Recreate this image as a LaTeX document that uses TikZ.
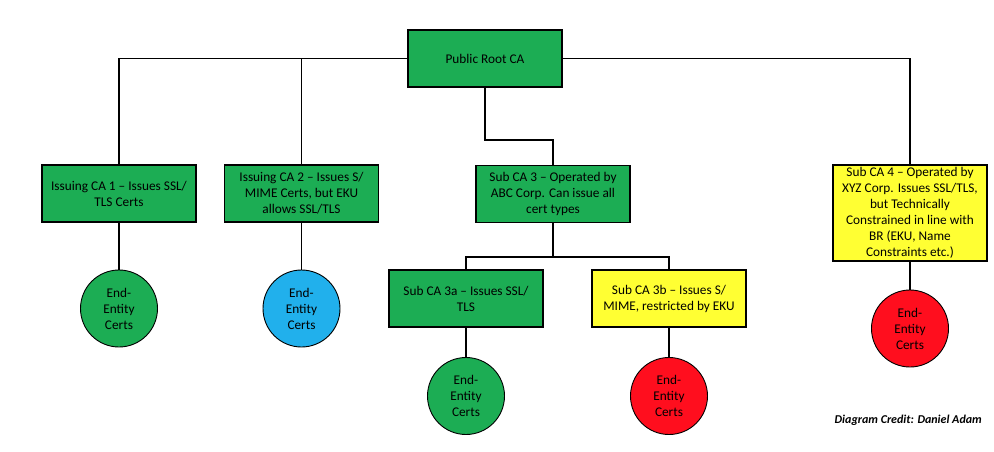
\documentclass[tikz,border=0pt]{standalone}
\usepackage{fontspec}
\setmainfont{Carlito}
\definecolor{cagreen}{RGB}{28,173,84}
\definecolor{cablue}{RGB}{33,176,236}
\definecolor{cayellow}{RGB}{255,255,51}
\definecolor{cared}{RGB}{255,14,30}
\begin{document}
\begin{tikzpicture}[x=1pt,y=-1pt,
  box/.style={draw=black,line width=1.3pt,fill=cagreen,minimum width=154pt,minimum height=57pt,align=center,inner sep=2pt,font=\fontsize{13.3}{16}\selectfont},
  ybox/.style={box,fill=cayellow},
  ee/.style={draw=black,line width=0.9pt,circle,minimum size=77pt,inner sep=0pt,align=center,font=\fontsize{13.3}{16}\selectfont},
  conn/.style={line width=1.1pt,draw=black}]
\useasboundingbox (0,0) rectangle (994,452);
\node[box] (root) at (485,58.5) {Public Root CA};
\node[box] (ca1) at (119,193.5) {Issuing CA 1 – Issues SSL/\\TLS Certs};
\node[box] (ca2) at (301.5,193.5) {Issuing CA 2 – Issues S/\\MIME Certs, but EKU\\allows SSL/TLS};
\node[box] (ca3) at (553,194) {Sub CA 3 – Operated by\\ABC Corp. Can issue all\\cert types};
\node[box] (ca3a) at (466,298.5) {Sub CA 3a – Issues SSL/\\TLS};
\node[ybox] (ca3b) at (669,298.5) {Sub CA 3b – Issues S/\\MIME, restricted by EKU};
\node[ybox,minimum height=96pt] (ca4) at (910,213) {Sub CA 4 – Operated by\\XYZ Corp. Issues SSL/TLS,\\but Technically\\Constrained in line with\\BR (EKU, Name\\Constraints etc.)};
\node[ee,fill=cagreen] (e1) at (119,308.5) {End-\\Entity\\Certs};
\node[ee,fill=cablue] (e2) at (301.5,308.5) {End-\\Entity\\Certs};
\node[ee,fill=cagreen] (e3a) at (466,396) {End-\\Entity\\Certs};
\node[ee,fill=cared] (e3b) at (669,396) {End-\\Entity\\Certs};
\node[ee,fill=cared] (e4) at (910,328.5) {End-\\Entity\\Certs};
\node[font=\fontsize{12}{14}\selectfont\bfseries\itshape,anchor=east,inner sep=0pt] (credit) at (982,420) {Diagram Credit: Daniel Adam};
\coordinate (j1) at (485,140);
\coordinate (j2) at (553,257);
\draw[conn] (root.west) -| (ca1.north);
\draw[conn] (ca2.north) -- (ca2.north |- root.west);
\draw[conn] (root.east) -| (ca4.north);
\draw[conn] (root.south) -- (j1) -| (ca3.north);
\draw[conn] (ca3.south) -- (j2);
\draw[conn] (ca3a.north) |- (j2) -| (ca3b.north);
\draw[conn] (ca1.south) -- (e1.north);
\draw[conn] (ca2.south) -- (e2.north);
\draw[conn] (ca3a.south) -- (e3a.north);
\draw[conn] (ca3b.south) -- (e3b.north);
\draw[conn] (ca4.south) -- (e4.north);
\end{tikzpicture}
\end{document}
